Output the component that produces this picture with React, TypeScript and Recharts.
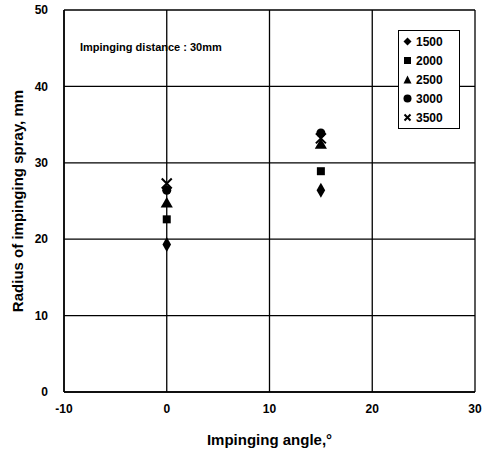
import { ScatterChart, Scatter, XAxis, YAxis, ZAxis, CartesianGrid, Label } from "recharts";

const angles = [0, 15];
const r1500 = [19.3, 26.4];
const r2000 = [22.6, 28.9];
const r2500 = [24.6, 32.3];
const r3000 = [26.4, 33.9];
const r3500 = [27.3, 33.2];
const xTicks = [-10, 0, 10, 20, 30];
const yTicks = [0, 10, 20, 30, 40, 50];

const toRows = (ys: number[]) => angles.map((a, i) => ({ x: a, y: ys[i] }));

const XShape = (p: any) => {
  const { cx, cy } = p;
  const s = 5;
  return (
    <path
      d={`M${cx - s},${cy - s}L${cx + s},${cy + s}M${cx + s},${cy - s}L${cx - s},${cy + s}`}
      stroke="#000"
      strokeWidth={2}
    />
  );
};

const series = [
  { name: "1500", data: toRows(r1500), shape: "diamond" },
  { name: "2000", data: toRows(r2000), shape: "square" },
  { name: "2500", data: toRows(r2500), shape: "triangle" },
  { name: "3000", data: toRows(r3000), shape: "circle" },
  { name: "3500", data: toRows(r3500), shape: "x" },
];

const glyph = (shape: string) => {
  switch (shape) {
    case "diamond":
      return <path d="M4.5,0.5L8.5,4.5L4.5,8.5L0.5,4.5Z" fill="#000" />;
    case "square":
      return <rect x={1} y={1} width={7} height={7} fill="#000" />;
    case "triangle":
      return <path d="M4.5,0.5L8.5,8.5L0.5,8.5Z" fill="#000" />;
    case "circle":
      return <circle cx={4.5} cy={4.5} r={4} fill="#000" />;
    default:
      return <path d="M1.5,1.5L7.5,7.5M7.5,1.5L1.5,7.5" stroke="#000" strokeWidth={2} />;
  }
};

const font = "Arial, 'Liberation Sans', sans-serif";

export default function App() {
  return (
    <div style={{ position: "absolute", left: 0, top: 0, width: 486, height: 450, background: "#fff" }}>
      <ScatterChart width={486} height={450} margin={{ top: 10, right: 11, left: 0, bottom: 0 }}>
        <CartesianGrid stroke="#000" strokeWidth={1.3} />
        <XAxis
          type="number"
          dataKey="x"
          domain={[-10, 30]}
          ticks={xTicks}
          height={58}
          axisLine={{ stroke: "#000", strokeWidth: 1.5 }}
          tickLine={false}
          tick={{ fill: "#000", fontSize: 12, fontWeight: "bold", fontFamily: font }}
          tickMargin={6}
        >
          <Label
            value="Impinging angle,°"
            position="insideBottom"
            offset={5}
            style={{ fill: "#000", fontSize: 15, fontWeight: "bold", fontFamily: font }}
          />
        </XAxis>
        <YAxis
          type="number"
          dataKey="y"
          domain={[0, 50]}
          ticks={yTicks}
          width={64}
          axisLine={{ stroke: "#000", strokeWidth: 1.5 }}
          tickLine={false}
          tick={{ fill: "#000", fontSize: 12, fontWeight: "bold", fontFamily: font }}
          tickMargin={10}
        >
          <Label
            value="Radius of impinging spray, mm"
            angle={-90}
            position="insideLeft"
            offset={18}
            style={{ fill: "#000", fontSize: 15, fontWeight: "bold", fontFamily: font, textAnchor: "middle" }}
          />
        </YAxis>
        <ZAxis range={[150, 150]} />
        {series.map((s) => (
          <Scatter
            key={s.name}
            name={s.name}
            data={s.data}
            fill="#000"
            shape={s.shape === "x" ? XShape : (s.shape as any)}
            isAnimationActive={false}
          />
        ))}
      </ScatterChart>
      <div
        style={{
          position: "absolute",
          left: 80,
          top: 41,
          fontFamily: font,
          fontWeight: "bold",
          fontSize: 11,
        }}
      >
        Impinging distance : 30mm
      </div>
      <div
        style={{
          position: "absolute",
          left: 398,
          top: 30,
          width: 52,
          border: "1.5px solid #000",
          background: "#fff",
          padding: "1px 4px",
          fontFamily: font,
          fontWeight: "bold",
          fontSize: 12,
        }}
      >
        {series.map((s) => (
          <div key={s.name} style={{ display: "flex", alignItems: "center", height: 19 }}>
            <svg width={9} height={9} style={{ marginRight: 4 }}>
              {glyph(s.shape)}
            </svg>
            {s.name}
          </div>
        ))}
      </div>
    </div>
  );
}
